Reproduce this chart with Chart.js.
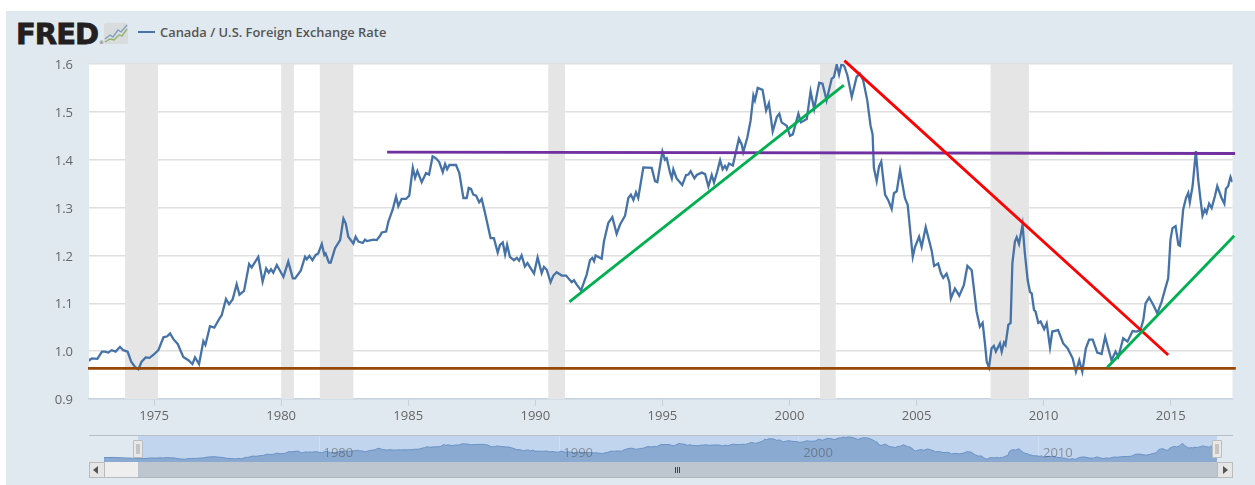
<!DOCTYPE html>
<html>
<head>
<meta charset="utf-8">
<script src="https://cdn.jsdelivr.net/npm/chart.js@4"></script>
<style>
  body { margin: 0; background: #fff; width: 1255px; height: 485px; overflow: hidden; position: relative; font-family: "Open Sans", sans-serif; }
  #panel { position: absolute; left: 6px; top: 11px; right: 0; bottom: 0; background: #e1e9f0; }
  canvas { position: absolute; left: 0; }
  .abs { position: absolute; }
  #logo { left: 16px; top: 17px; font: bold 29px/34px "DejaVu Sans", sans-serif; letter-spacing: -1px; color: #231f20; -webkit-text-stroke: 0.8px #231f20; }
  #logoMark { left: 99px; top: 39px; font: 5px/6px "DejaVu Sans", sans-serif; color: #555; }
  #legendLine { left: 138px; top: 31px; width: 17px; height: 2px; background: #4572a7; }
  #legendText { left: 160px; top: 23px; font: 600 12.9px/18px "Open Sans", sans-serif; color: #555; white-space: nowrap; }
  #navTop { left: 89px; top: 435px; width: 1144px; height: 1px; background: #b8bfc6; }
  #navBand { left: 138px; top: 436px; width: 1079px; height: 26px; background: #c1d5ee; }
  #track { left: 138px; top: 462px; width: 1079px; height: 15px; background: #bdc5ce; border-bottom: 1px solid #aeb5bd; }
  #trackLeft { left: 104px; top: 462px; width: 34px; height: 15px; background: #eee; border-bottom: 1px solid #bbb; }
  .btn { top: 462px; width: 14px; height: 14px; background: #e6e6e6; border: 1px solid #bbb; }
  .arrow { top: 466px; width: 0; height: 0; border-top: 4px solid transparent; border-bottom: 4px solid transparent; }
  .handle { top: 440px; width: 8px; height: 16px; background: #e8e8e8; border: 1px solid #bdbdbd; border-radius: 1px; }
  .handle i { position: absolute; left: 2px; top: 3px; width: 4px; height: 10px; background: #c4c4c4; }
  .grip { top: 467px; width: 1px; height: 6px; background: #444; }
</style>
</head>
<body>
<div id="panel"></div>
<div class="abs" id="logo">FRED</div>
<div class="abs" id="logoMark">®</div>
<svg class="abs" style="left:104px;top:23px" width="24" height="21" viewBox="0 0 24 21">
  <rect width="24" height="21" rx="2" fill="#d9dcdc"/>
  <path d="M1 16 L6 12 L9 14 L14 7 L17 9 L23 2" fill="none" stroke="#7f9fc0" stroke-width="1.3"/>
  <path d="M1 19 L6 16 L10 17 L15 12 L18 13 L23 6" fill="none" stroke="#8db26a" stroke-width="1.3"/>
</svg>
<div class="abs" id="legendLine"></div>
<div class="abs" id="legendText">Canada / U.S. Foreign Exchange Rate</div>

<div class="abs" id="navBand"></div>
<canvas id="navChart" width="1255" height="32" style="top:430px"></canvas>
<div class="abs" id="navTop"></div>
<div class="abs" id="trackLeft"></div>
<div class="abs" id="track"></div>
<div class="abs grip" style="left:675px"></div>
<div class="abs grip" style="left:677px"></div>
<div class="abs grip" style="left:679px"></div>
<div class="abs btn" style="left:89px"></div>
<div class="abs arrow" style="left:93px;border-right:5px solid #555"></div>
<div class="abs btn" style="left:1217px"></div>
<div class="abs arrow" style="left:1223px;border-left:5px solid #555"></div>
<div class="abs handle" style="left:133px"><i></i></div>
<div class="abs handle" style="left:1212px"><i></i></div>

<canvas id="myChart" width="1255" height="430" style="top:0"></canvas>

<script>
const xTicks = [1975, 1980, 1985, 1990, 1995, 2000, 2005, 2010, 2015];
const yTicks = [0.9, 1.0, 1.1, 1.2, 1.3, 1.4, 1.5, 1.6];
const navTicks = [1980, 1990, 2000, 2010];

const rateYears = [
  1971.02, 1971.4, 1971.9, 1972.3,
  1972.46, 1972.55, 1972.77, 1972.95, 1973.07, 1973.20, 1973.33, 1973.49, 1973.66, 1973.79, 1973.96, 1974.10, 1974.25, 1974.38, 1974.51, 1974.67, 1974.82, 1974.97,
  1975.17, 1975.37, 1975.52, 1975.63, 1975.76, 1975.93, 1976.15, 1976.35, 1976.51, 1976.61, 1976.77, 1976.94, 1977.02, 1977.20, 1977.37, 1977.57, 1977.66, 1977.83, 1977.95,
  1978.09, 1978.25, 1978.36, 1978.54, 1978.74, 1978.84, 1979.10, 1979.27, 1979.41, 1979.51, 1979.60, 1979.69, 1979.83, 1980.09, 1980.28, 1980.46, 1980.55, 1980.77, 1980.94,
  1981.01, 1981.11, 1981.23, 1981.36, 1981.46, 1981.60, 1981.70, 1981.75, 1981.88, 1981.95, 1982.12, 1982.32, 1982.45, 1982.54, 1982.64, 1982.84, 1982.93,
  1983.04, 1983.21, 1983.30, 1983.37, 1983.63, 1983.76, 1983.89, 1983.96, 1984.13, 1984.22, 1984.39, 1984.52, 1984.61, 1984.74, 1984.91,
  1985.04, 1985.18, 1985.27, 1985.36, 1985.53, 1985.70, 1985.82, 1985.96, 1986.09, 1986.22, 1986.36, 1986.45, 1986.53, 1986.62, 1986.88,
  1987.01, 1987.17, 1987.30, 1987.38, 1987.47, 1987.56, 1987.67, 1987.79, 1987.89, 1988.02, 1988.24, 1988.37, 1988.52, 1988.61, 1988.72, 1988.81, 1988.89,
  1989.00, 1989.16, 1989.27, 1989.36, 1989.46, 1989.59, 1989.69, 1989.95, 1990.09, 1990.25, 1990.34, 1990.45, 1990.60, 1990.71, 1990.84,
  1991.04, 1991.21, 1991.43, 1991.52, 1991.63, 1991.80, 1992.02, 1992.15, 1992.24, 1992.31, 1992.37, 1992.61, 1992.70, 1992.87,
  1993.03, 1993.20, 1993.33, 1993.53, 1993.66, 1993.76, 1993.86, 1993.96, 1994.05, 1994.25, 1994.58, 1994.71, 1994.80,
  1995.00, 1995.10, 1995.17, 1995.30, 1995.37, 1995.43, 1995.56, 1995.78, 1995.93, 1996.02, 1996.11, 1996.26, 1996.35, 1996.55, 1996.68, 1996.81, 1996.94,
  1997.03, 1997.16, 1997.27, 1997.37, 1997.46, 1997.53, 1997.62, 1997.77, 1997.90, 1998.01, 1998.12, 1998.18, 1998.34, 1998.47, 1998.58, 1998.64, 1998.75, 1998.94,
  1999.08, 1999.19, 1999.34, 1999.50, 1999.60, 1999.69, 1999.89, 2000.02, 2000.13, 2000.35, 2000.45, 2000.68, 2000.83, 2000.97,
  2001.17, 2001.30, 2001.46, 2001.66, 2001.75, 2001.86, 2001.95, 2002.05, 2002.16, 2002.28, 2002.45, 2002.64, 2002.77, 2002.90,
  2003.06, 2003.19, 2003.27, 2003.32, 2003.43, 2003.52, 2003.61, 2003.76, 2003.89, 2004.02, 2004.11, 2004.22, 2004.35, 2004.54, 2004.65, 2004.85, 2004.94,
  2005.10, 2005.20, 2005.36, 2005.59, 2005.69, 2005.85, 2005.96, 2006.05, 2006.18, 2006.29, 2006.35, 2006.51, 2006.68, 2006.86,
  2007.00, 2007.17, 2007.36, 2007.49, 2007.60, 2007.69, 2007.76, 2007.85, 2007.95, 2008.04, 2008.12, 2008.28, 2008.35, 2008.44, 2008.50, 2008.61, 2008.70, 2008.77, 2008.87, 2008.94,
  2009.03, 2009.17, 2009.26, 2009.37, 2009.46, 2009.53, 2009.62, 2009.68, 2009.79, 2009.88, 2010.02, 2010.12, 2010.25, 2010.34, 2010.57, 2010.77, 2010.94,
  2011.14, 2011.27, 2011.40, 2011.52, 2011.66, 2011.79, 2011.93, 2012.11, 2012.28, 2012.42, 2012.54, 2012.67, 2012.83, 2012.94,
  2013.13, 2013.30, 2013.50, 2013.66, 2013.81, 2013.92, 2014.01, 2014.15, 2014.31, 2014.47, 2014.64, 2014.77, 2014.90, 2014.99,
  2015.07, 2015.19, 2015.30, 2015.36, 2015.49, 2015.60, 2015.69, 2015.75, 2015.86, 2015.99, 2016.08, 2016.17, 2016.25, 2016.34, 2016.41, 2016.51, 2016.61, 2016.74, 2016.83,
  2017.00, 2017.11, 2017.17, 2017.26, 2017.35, 2017.43
];
const rateValues = [
  1.01, 1.015, 1.0, 0.99,
  0.981, 0.985, 0.984, 0.999, 0.999, 0.997, 1.002, 0.999, 1.009, 1.002, 0.999, 0.978, 0.967, 0.962, 0.978, 0.987, 0.986, 0.992,
  1.002, 1.029, 1.031, 1.037, 1.025, 1.015, 0.988, 0.981, 0.973, 0.987, 0.973, 1.021, 1.013, 1.052, 1.049, 1.068, 1.075, 1.109, 1.098,
  1.108, 1.140, 1.118, 1.126, 1.182, 1.175, 1.197, 1.145, 1.173, 1.164, 1.171, 1.164, 1.180, 1.155, 1.187, 1.152, 1.152, 1.168, 1.197,
  1.192, 1.199, 1.190, 1.201, 1.204, 1.224, 1.201, 1.204, 1.185, 1.185, 1.215, 1.232, 1.277, 1.267, 1.239, 1.225, 1.239,
  1.229, 1.226, 1.233, 1.230, 1.233, 1.232, 1.241, 1.248, 1.250, 1.271, 1.296, 1.323, 1.303, 1.318, 1.318,
  1.325, 1.383, 1.362, 1.376, 1.353, 1.372, 1.369, 1.407, 1.403, 1.395, 1.374, 1.391, 1.380, 1.389, 1.389,
  1.372, 1.320, 1.320, 1.341, 1.339, 1.327, 1.325, 1.311, 1.318, 1.289, 1.236, 1.236, 1.206, 1.222, 1.227, 1.202, 1.222,
  1.197, 1.190, 1.195, 1.189, 1.200, 1.177, 1.184, 1.162, 1.196, 1.163, 1.176, 1.170, 1.144, 1.158, 1.165,
  1.158, 1.158, 1.144, 1.148, 1.139, 1.127, 1.160, 1.190, 1.195, 1.188, 1.200, 1.193, 1.229, 1.268,
  1.280, 1.245, 1.264, 1.283, 1.320, 1.327, 1.316, 1.332, 1.320, 1.384, 1.383, 1.355, 1.353,
  1.417, 1.400, 1.403, 1.373, 1.361, 1.380, 1.361, 1.347, 1.368, 1.369, 1.376, 1.361, 1.368, 1.373, 1.370, 1.344, 1.368,
  1.352, 1.376, 1.399, 1.380, 1.387, 1.380, 1.392, 1.388, 1.418, 1.444, 1.432, 1.416, 1.446, 1.482, 1.534, 1.524, 1.550, 1.546,
  1.503, 1.518, 1.459, 1.489, 1.496, 1.478, 1.471, 1.450, 1.453, 1.496, 1.478, 1.485, 1.543, 1.506,
  1.561, 1.559, 1.524, 1.569, 1.573, 1.599, 1.578, 1.601, 1.595, 1.576, 1.531, 1.573, 1.580, 1.566,
  1.524, 1.471, 1.453, 1.383, 1.355, 1.385, 1.396, 1.327, 1.315, 1.297, 1.330, 1.334, 1.378, 1.320, 1.306, 1.197, 1.218,
  1.239, 1.218, 1.259, 1.211, 1.178, 1.183, 1.162, 1.153, 1.162, 1.144, 1.110, 1.131, 1.116, 1.138,
  1.178, 1.169, 1.083, 1.051, 1.059, 1.016, 0.978, 0.966, 1.006, 1.011, 0.999, 1.016, 0.999, 1.018, 1.013, 1.055, 1.059, 1.184, 1.229, 1.238,
  1.224, 1.264, 1.205, 1.149, 1.124, 1.121, 1.086, 1.083, 1.059, 1.062, 1.046, 1.058, 1.008, 1.041, 1.044, 1.016, 1.006,
  0.985, 0.957, 0.981, 0.957, 1.006, 1.024, 1.024, 0.997, 0.994, 1.030, 1.006, 0.981, 0.999, 0.988,
  1.027, 1.020, 1.042, 1.041, 1.044, 1.065, 1.100, 1.112, 1.097, 1.079, 1.103, 1.128, 1.152, 1.233,
  1.257, 1.261, 1.222, 1.220, 1.296, 1.320, 1.331, 1.311, 1.345, 1.418, 1.359, 1.317, 1.283, 1.296, 1.289, 1.308, 1.299, 1.324, 1.345,
  1.320, 1.308, 1.339, 1.345, 1.364, 1.353
];

// hand drawn trend lines, start and end of each
const purpleYears = [1984.17, 2017.53];
const purpleValues = [1.416, 1.413];
const brownYears = [1972.40, 2017.56];
const brownValues = [0.964, 0.964];
const redYears = [2002.16, 2014.90];
const redValues = [1.607, 0.992];
const greenUpYears = [1991.34, 2002.14];
const greenUpValues = [1.103, 1.556];
const greenLateYears = [2012.50, 2017.50];
const greenLateValues = [0.966, 1.241];

const recessionStarts = [1973.86, 1980.0, 1981.52, 1990.51, 2001.2, 2007.91];
const recessionEnds = [1975.16, 1980.5, 1982.84, 1991.17, 2001.82, 2009.42];

const toPoints = (xs, ys) => xs.map((x, i) => ({ x: x, y: ys[i] }));

const trendLine = (xs, ys, color) => ({
  data: toPoints(xs, ys),
  borderColor: color,
  borderWidth: 2.8,
  pointRadius: 0,
  clip: false,
});

// white plot area and the grey recession bands
const plotBack = {
  id: "plotBack",
  beforeDraw(chart) {
    const a = chart.chartArea;
    chart.ctx.fillStyle = "#fff";
    chart.ctx.fillRect(a.left, a.top, a.width, a.height);
  },
  beforeDatasetsDraw(chart) {
    const a = chart.chartArea;
    const x = chart.scales.x;
    chart.ctx.fillStyle = "#e5e5e5";
    recessionStarts.forEach((start, i) => {
      const left = x.getPixelForValue(start);
      chart.ctx.fillRect(left, a.top, x.getPixelForValue(recessionEnds[i]) - left, a.height);
    });
  },
};

const tickFont = { family: "Open Sans", size: 13 };

new Chart(document.getElementById("myChart"), {
  type: "line",
  plugins: [plotBack],
  data: {
    datasets: [
      trendLine(greenLateYears, greenLateValues, "#00b050"),
      trendLine(greenUpYears, greenUpValues, "#00b050"),
      trendLine(redYears, redValues, "#ff0000"),
      trendLine(purpleYears, purpleValues, "#7030a0"),
      trendLine(brownYears, brownValues, "#984806"),
      {
        data: toPoints(rateYears, rateValues),
        borderColor: "#4572a7",
        borderWidth: 2.3,
        pointRadius: 0,
        tension: 0,
      },
    ],
  },
  options: {
    responsive: false,
    animation: false,
    layout: { padding: { left: 0, right: 22.5, top: 64, bottom: 0 } },
    plugins: { legend: { display: false }, tooltip: { enabled: false } },
    scales: {
      x: {
        type: "linear",
        min: 1972.44,
        max: 2017.43,
        afterBuildTicks: (s) => { s.ticks = xTicks.map((v) => ({ value: v })); },
        afterFit: (s) => { s.height = 31; },
        border: { color: "#c6d2de", width: 1.5 },
        grid: { drawOnChartArea: false, tickLength: 7, tickColor: "#c6d2de", tickWidth: 1 },
        ticks: { color: "#666", font: tickFont, padding: 2, maxRotation: 0, callback: (v) => String(v) },
      },
      y: {
        min: 0.9,
        max: 1.6,
        afterBuildTicks: (s) => { s.ticks = yTicks.map((v) => ({ value: v })); },
        afterFit: (s) => { s.width = 89; },
        border: { display: false },
        grid: { drawTicks: false, lineWidth: 1.5, color: (c) => (c.tick && c.tick.value === 0.9 ? "transparent" : "#dfdfdf") },
        ticks: { color: "#666", font: tickFont, padding: 16, labelOffset: 1.5, callback: (v) => v.toFixed(1) },
      },
    },
  },
});

new Chart(document.getElementById("navChart"), {
  type: "line",
  data: {
    datasets: [
      {
        data: toPoints(rateYears, rateValues),
        borderColor: "#6a92c4",
        backgroundColor: "#8aaad2",
        borderWidth: 1,
        pointRadius: 0,
        fill: "start",
      },
    ],
  },
  options: {
    responsive: false,
    animation: false,
    layout: { padding: { left: 104, right: 38, top: 6, bottom: 0 } },
    plugins: { legend: { display: false }, tooltip: { enabled: false } },
    scales: {
      x: {
        type: "linear",
        min: 1971.02,
        max: 2017.43,
        afterBuildTicks: (s) => { s.ticks = navTicks.map((v) => ({ value: v })); },
        afterFit: (s) => { s.height = 0; },
        border: { display: false },
        grid: { drawTicks: false, color: "rgba(255,255,255,0.25)" },
        // mirror keeps the labels from being clipped to the zero height axis box
        ticks: { z: 1, mirror: true, color: "rgba(85,85,85,0.55)", font: { family: "Open Sans", size: 13 }, padding: 1, labelOffset: 19, maxRotation: 0, autoSkip: false, callback: (v) => String(v) },
      },
      y: { display: false, min: 0.883, max: 1.63 },
    },
  },
});
</script>
</body>
</html>
